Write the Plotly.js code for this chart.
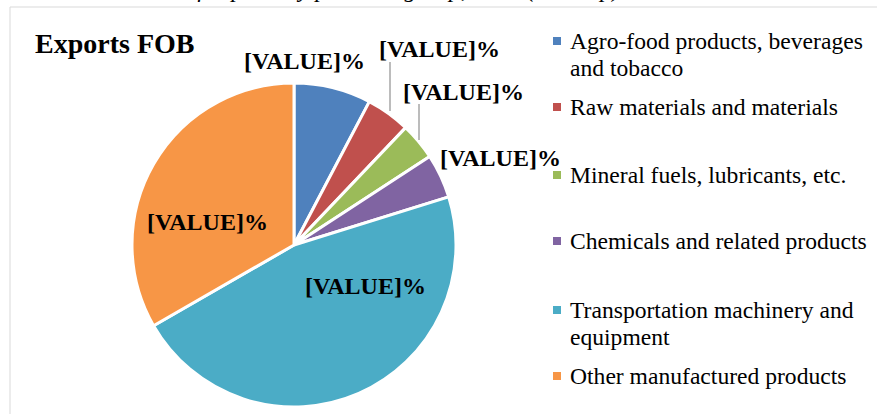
<!DOCTYPE html>
<html>
<head>
<meta charset="utf-8">
<script src="https://cdn.plot.ly/plotly-3.0.1.min.js"></script>
<style>html,body{margin:0;padding:0;background:#fff;}#chart{width:877px;height:414px;}</style>
</head>
<body>
<div id="chart"></div>
<script>
// ---- data ----
const categories = [
  "Agro-food products, beverages and tobacco",
  "Raw materials and materials",
  "Mineral fuels, lubricants, etc.",
  "Chemicals and related products",
  "Transportation machinery and equipment",
  "Other manufactured products"
];
const legendLines = [
  ["Agro-food products, beverages", "and tobacco"],
  ["Raw materials and materials"],
  ["Mineral fuels, lubricants, etc."],
  ["Chemicals and related products"],
  ["Transportation machinery and", "equipment"],
  ["Other manufactured products"]
];
const shares = [7.7, 4.4, 3.7, 4.4, 46.5, 33.3];
const sliceLabels = ["[VALUE]%", "[VALUE]%", "[VALUE]%", "[VALUE]%", "[VALUE]%", "[VALUE]%"];
const colors = ["#4f81bd", "#c0504d", "#9bbb59", "#8064a2", "#4bacc6", "#f79646"];
const chartTitle = "Exports FOB";
const captionText = "Structure of exports by products group, 2019 (Jan-Sep)";

// ---- layout helpers (pixel -> paper) ----
const W = 877, H = 414;
const px = x => x / W;
const py = y => 1 - y / H;

const cx = 294, cy = 245, R = 162;

const trace = {
  type: "pie",
  values: shares,
  labels: categories,
  sort: false,
  direction: "clockwise",
  rotation: 0,
  textinfo: "none",
  hoverinfo: "label+percent",
  marker: { colors: colors, line: { color: "#ffffff", width: 3 } },
  domain: { x: [px(cx - R), px(cx + R)], y: [py(cy + R), py(cy - R)] },
  showlegend: false
};

const SERIF = "Liberation Serif, Times New Roman, serif";

// label positions (pixel centres)
const labelPos = [[304, 61], [439, 49], [464, 92], [500, 158], [365, 286], [207, 222]];
const annotations = [];
sliceLabels.forEach((t, i) => {
  annotations.push({
    text: "<b>" + t + "</b>", x: px(labelPos[i][0]), y: py(labelPos[i][1]),
    xref: "paper", yref: "paper", showarrow: false, xanchor: "center", yanchor: "middle",
    font: { family: SERIF, size: 24, color: "#000" }
  });
});
annotations.push({
  text: "<b>" + chartTitle + "</b>", x: px(33), y: py(43), xref: "paper", yref: "paper",
  showarrow: false, xanchor: "left", yanchor: "middle",
  font: { family: SERIF, size: 28, color: "#000" }
});
annotations.push({
  text: "<i>" + captionText + "</i>", x: px(622), y: py(-11), xref: "paper", yref: "paper",
  showarrow: false, xanchor: "right", yanchor: "middle",
  font: { family: SERIF, size: 24, color: "#000" }
});

// legend (manual)
const legendFirstY = [41, 107, 175, 241, 310, 376];
const lineGap = 27;
const shapes = [];
legendLines.forEach((lines, i) => {
  lines.forEach((ln, j) => {
    annotations.push({
      text: ln, x: px(568), y: py(legendFirstY[i] + j * lineGap), xref: "paper", yref: "paper",
      showarrow: false, xanchor: "left", yanchor: "middle",
      font: { family: SERIF, size: 23.6, color: "#000" }
    });
  });
  shapes.push({
    type: "rect", xref: "paper", yref: "paper",
    x0: px(553), x1: px(561), y0: py(legendFirstY[i] + 4), y1: py(legendFirstY[i] - 4),
    fillcolor: colors[i], line: { width: 0 }
  });
});

// leader lines
shapes.push({ type: "line", xref: "paper", yref: "paper", x0: px(390), x1: px(390), y0: py(62), y1: py(111), line: { color: "#a6a6a6", width: 1.5 } });
shapes.push({ type: "line", xref: "paper", yref: "paper", x0: px(419), x1: px(419), y0: py(104), y1: py(140), line: { color: "#a6a6a6", width: 1.5 } });

// chart frame
shapes.push({ type: "rect", xref: "paper", yref: "paper", x0: px(10), x1: px(900), y0: py(440), y1: py(7), line: { color: "#d9d9d9", width: 1 }, fillcolor: "rgba(0,0,0,0)" });

const layout = {
  width: W, height: H,
  margin: { l: 0, r: 0, t: 0, b: 0 },
  paper_bgcolor: "#ffffff",
  showlegend: false,
  annotations: annotations,
  shapes: shapes
};

Plotly.newPlot("chart", [trace], layout, { displayModeBar: false, staticPlot: true });
</script>
</body>
</html>
